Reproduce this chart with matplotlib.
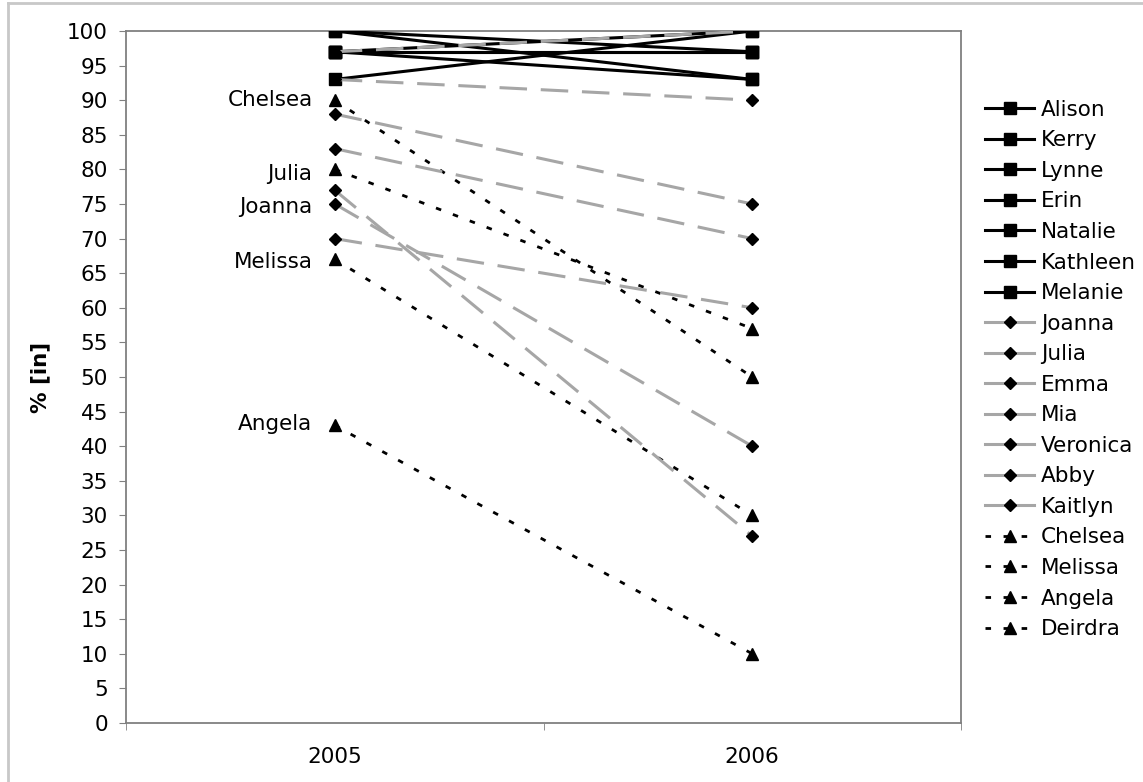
import matplotlib
matplotlib.use('Agg')
import matplotlib.pyplot as plt
from matplotlib.lines import Line2D

years = ['2005', '2006']

# black solid, square markers
solid_names = ['Alison', 'Kerry', 'Lynne', 'Erin', 'Natalie', 'Kathleen', 'Melanie']
solid_vals = [[100, 97], [100, 93], [97, 100], [97, 97], [97, 93], [93, 100], [97, 97]]

# grey dashed, diamond markers
grey_names = ['Joanna', 'Julia', 'Emma', 'Mia', 'Veronica', 'Abby', 'Kaitlyn']
grey_vals = [[75, 40], [77, 27], [93, 90], [88, 75], [83, 70], [70, 60], [97, 100]]

# black dotted, triangle markers
dot_names = ['Chelsea', 'Melissa', 'Angela', 'Deirdra']
dot_vals = [[90, 50], [67, 30], [43, 10], [80, 57]]

# data labels written next to the 2005 points
point_labels = ['Chelsea', 'Julia', 'Joanna', 'Melissa', 'Angela']
point_label_y = [90, 79.3, 74.6, 66.6, 43.2]

fs = 15.5
plt.rcParams['font.family'] = ['DejaVu Sans']
fig = plt.figure(figsize=(11.43, 7.82), dpi=100)
ax = fig.add_axes([126 / 1143, 1 - 723 / 782, 835 / 1143, 692 / 782])

x = [0, 1]
handles = []
for name, v in zip(solid_names, solid_vals):
    h, = ax.plot(x, v, color='black', lw=2.2, marker='s', ms=8.5, label=name, zorder=3)
    handles.append(h)
for name, v in zip(grey_names, grey_vals):
    ax.plot(x, v, color='#a6a6a6', lw=2.2, dashes=(9, 4.5), marker='D', ms=6,
            mfc='black', mec='black', zorder=4)
    handles.append(Line2D([], [], color='#a6a6a6', lw=2.2, marker='D', ms=6,
                          mfc='black', mec='black', label=name))
for name, v in zip(dot_names, dot_vals):
    ax.plot(x, v, color='black', lw=2.0, dashes=(2, 4.5), marker='^', ms=8, zorder=3)
    handles.append(Line2D([], [], color='black', lw=2.0, dashes=(2, 4.5), marker='^',
                          ms=8, label=name))

for t, yv in zip(point_labels, point_label_y):
    ax.annotate(t, (0, yv), xytext=(-16, 0), textcoords='offset points',
                ha='right', va='center', fontsize=fs)

ax.set_xlim(-0.5, 1.5)
ax.set_ylim(0, 100)
ax.set_yticks(range(0, 101, 5))
ax.set_xticks(x)
ax.set_xticklabels(years)
ax.set_xticks([-0.5, 0.5, 1.5], minor=True)
ax.tick_params(axis='x', which='major', length=0, pad=17, labelsize=fs)
ax.tick_params(axis='x', which='minor', length=5, color='#808080', direction='out')
ax.tick_params(axis='y', length=5, color='#808080', pad=8, labelsize=fs)
for s in ax.spines.values():
    s.set_color('#808080')
    s.set_linewidth(1.3)
ax.set_ylabel('% [in]', fontsize=fs, fontweight='bold', labelpad=12)

fig.legend(handles=handles, loc='upper left', bbox_to_anchor=(974 / 1143, 1 - 89 / 782),
           frameon=False, fontsize=fs, handlelength=2.3, handletextpad=0.3,
           labelspacing=0.49, borderpad=0)

# chart area border
fig.add_artist(Line2D([8 / 1143, 8 / 1143], [0, 1 - 3 / 782], transform=fig.transFigure,
                      color='#c8c8c8', lw=2))
fig.add_artist(Line2D([8 / 1143, 1], [1 - 3 / 782, 1 - 3 / 782], transform=fig.transFigure,
                      color='#c8c8c8', lw=2))

fig.savefig('out.png', dpi=100)
